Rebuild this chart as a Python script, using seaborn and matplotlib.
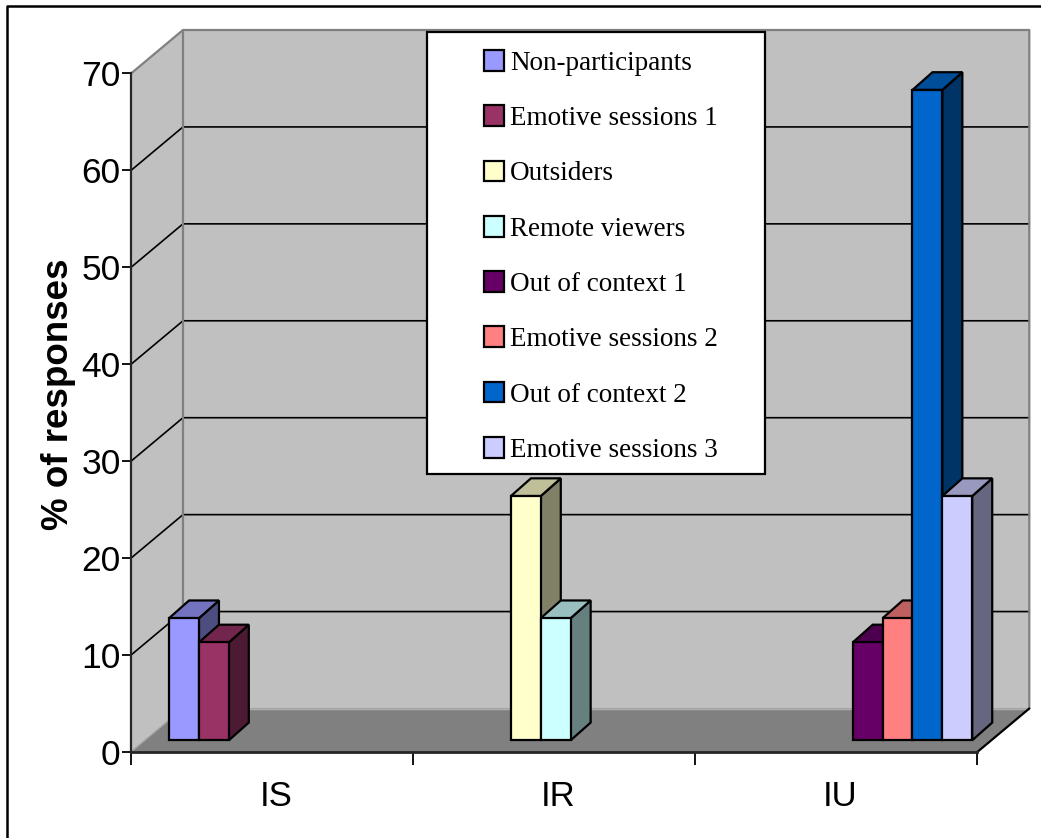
import pandas as pd
import numpy as np
import matplotlib
matplotlib.use('Agg')
import matplotlib.pyplot as plt
import matplotlib.transforms as mtransforms
from matplotlib.colors import to_rgb
from matplotlib.patches import Polygon, Rectangle
from matplotlib.lines import Line2D
import seaborn as sns

# ========== Data ==========
categories = ['IS', 'IR', 'IU']
series = ['Non-participants', 'Emotive sessions 1', 'Outsiders', 'Remote viewers',
          'Out of context 1', 'Emotive sessions 2', 'Out of context 2', 'Emotive sessions 3']
group = ['IS', 'IS', 'IR', 'IR', 'IU', 'IU', 'IU', 'IU']
values = [12.6, 10.1, 25.2, 12.6, 10.1, 12.6, 67.1, 25.2]
colors = ['#9999FF', '#993366', '#FFFFCC', '#CCFFFF', '#660066', '#FF8080', '#0066CC', '#CCCCFF']
y_ticks = [0, 10, 20, 30, 40, 50, 60, 70]

df = pd.DataFrame({'group': group, 'series': series, 'value': values})

W, H = 1041, 838
sns.set_style('white')
plt.rcParams['font.family'] = ['Liberation Sans', 'DejaVu Sans']
plt.rcParams['text.color'] = 'black'
plt.rcParams['xtick.color'] = 'black'
plt.rcParams['ytick.color'] = 'black'

LW = 1.6
fig = plt.figure(figsize=(W / 100, H / 100), dpi=100, facecolor='white')
ax = fig.add_axes([131 / W, 1 - 752 / H, 846.3 / W, 678.5 / H])
ax.patch.set_alpha(0)

sns.barplot(data=df, x='group', y='value', hue='series', order=categories, hue_order=series,
            palette=colors, saturation=1, width=0.847, edgecolor='black', linewidth=LW, ax=ax)
ax.set_xlim(-0.5, 2.5)
ax.set_ylim(0, 70)

# px -> data units
ux = 3 / 846.3
uy = 70 / 678.5

# ========== Walls and floor ==========
dx, dy = 52 * ux, 43.5 * uy
xl, xr = -0.5, 2.5
wall = dict(clip_on=False, zorder=0.5)
ax.add_patch(Polygon([(xl, 0), (xl + dx, dy), (xl + dx, 70 + dy), (xl, 70)], fc='#C0C0C0', ec='none', **wall))
ax.add_patch(Polygon([(xl + dx, dy), (xr + dx, dy), (xr + dx, 70 + dy), (xl + dx, 70 + dy)], fc='#C0C0C0', ec='none', **wall))
ax.add_patch(Polygon([(xl, 0), (xr, 0), (xr + dx, dy), (xl + dx, dy)], fc='#808080', ec='none', **wall))
for v in y_ticks[1:-1]:
    ax.plot([xl, xl + dx, xr + dx], [v, v + dy, v + dy], color='black', lw=1.2, clip_on=False, zorder=0.7)
gray = dict(color='#808080', lw=1.6, clip_on=False, zorder=0.8)
ax.plot([xl, xl + dx, xr + dx, xr + dx], [70, 70 + dy, 70 + dy, dy], **gray)
ax.plot([xl + dx, xl + dx], [dy, 70 + dy], **gray)
ax.plot([xl, xl + dx], [0, dy], color='#A0A0A0', lw=1, clip_on=False, zorder=0.8)
ax.plot([xl + dx, xr + dx], [dy, dy], color='#B0B0B0', lw=1, clip_on=False, zorder=0.8)
ax.plot([xr, xr + dx], [0, dy], color='black', lw=LW, clip_on=False, zorder=0.9)

# ========== 3D bar sides ==========
shift = mtransforms.Affine2D().translate(16.5, 11.7)
tr = ax.transData + shift
bx, by = 20 * ux, 17.7 * uy
bars = sorted([p for p in ax.patches if isinstance(p, Rectangle) and p.get_height() > 0], key=lambda p: p.get_x())
for i, bar in enumerate(bars):
    x0, w, h = bar.get_x(), bar.get_width(), bar.get_height()
    rgb = np.array(to_rgb(bar.get_facecolor()[:3]))
    z = 2 + i
    ax.add_patch(Polygon([(x0 + w, 0), (x0 + w + bx, by), (x0 + w + bx, h + by), (x0 + w, h)],
                         fc=rgb * 0.5, ec='black', lw=LW, transform=tr, clip_on=False, zorder=z))
    ax.add_patch(Polygon([(x0, h), (x0 + bx, h + by), (x0 + w + bx, h + by), (x0 + w, h)],
                         fc=rgb * 0.75, ec='black', lw=LW, transform=tr, clip_on=False, zorder=z))
    bar.set_transform(tr)
    bar.set_clip_on(False)
    bar.set_zorder(z + 0.5)

# ========== Axes ==========
sns.despine(ax=ax)
ax.spines['left'].set_linewidth(LW)
ax.spines['bottom'].set_linewidth(2)
ax.spines['left'].set_zorder(1)
ax.spines['bottom'].set_zorder(1)
ax.set_yticks(y_ticks)
ax.set_xticks([0, 1, 2])
ax.set_xticks([-0.5, 0.5, 1.5, 2.5], minor=True)
ax.tick_params(axis='x', which='major', length=0, pad=20, labelsize=25)
ax.tick_params(axis='x', which='minor', length=9.4, width=1.3, direction='out', bottom=True, color='black')
ax.tick_params(axis='y', length=6.5, width=1.3, left=True, pad=1, labelsize=25.5)
for lab in ax.get_xticklabels():
    lab.set_transform(lab.get_transform() + mtransforms.Affine2D().translate(4, 0))
ax.set_xlabel('')
ax.set_ylabel('')
fig.text(58 / W, 1 - 394 / H, '% of responses', rotation=90, ha='center', va='center',
         fontsize=26.5, fontweight='bold')

# ========== Legend ==========
fig.add_artist(Rectangle((427 / W, 1 - 474 / H), 338 / W, 442 / H, transform=fig.transFigure,
                         fc='white', ec='black', lw=LW, zorder=20))
sns.move_legend(ax, loc='upper left', bbox_to_anchor=(484 / W, 1 - 50 / H),
                bbox_transform=fig.transFigure, title=None, frameon=False,
                borderpad=0, borderaxespad=0, handlelength=0.74, handleheight=0.8,
                handletextpad=0.22, labelspacing=1.09,
                prop={'family': 'Liberation Serif', 'size': 19.5})
leg = ax.get_legend()
leg.remove()
fig.add_artist(leg)
leg.set_zorder(30)

# ========== Figure border ==========
fig.add_artist(Line2D([6.5 / W, 6.5 / W, 1], [1 - 838 / H, 1 - 6 / H, 1 - 6 / H], color='black', lw=1.8,
                      transform=fig.transFigure))

fig.savefig('out.png', dpi=100)
